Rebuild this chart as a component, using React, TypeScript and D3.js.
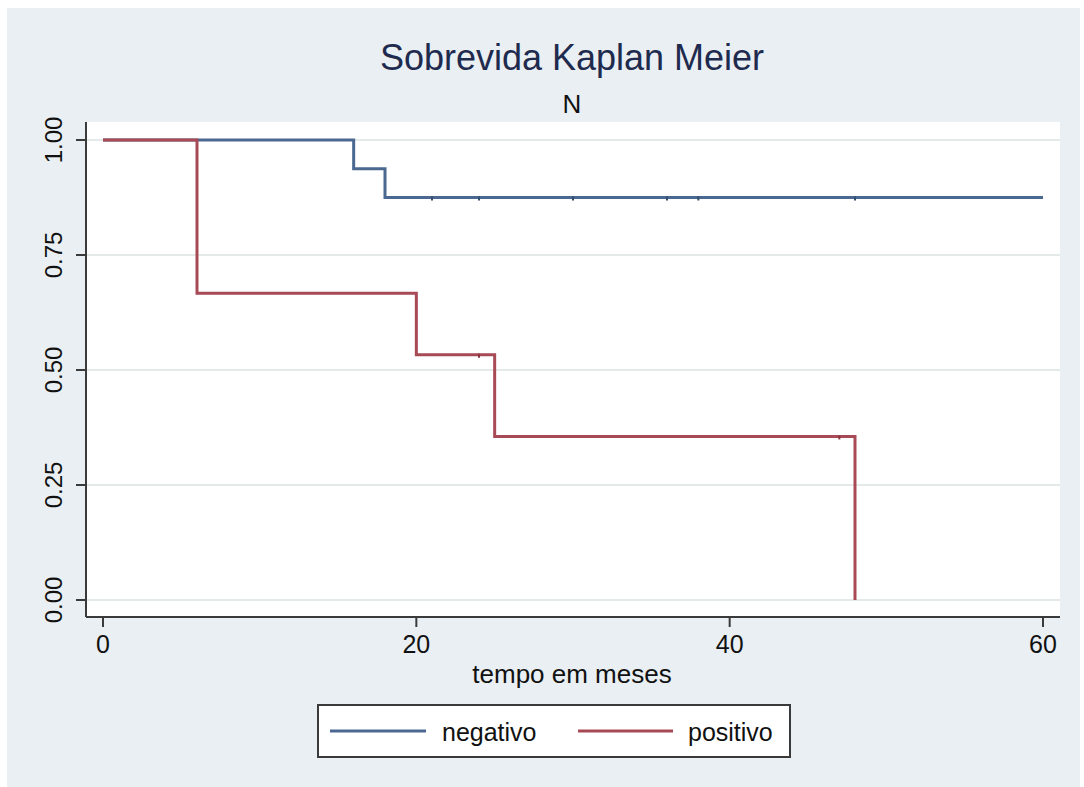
import React from "react";
import * as d3 from "d3";

const yTicks = [0, 0.25, 0.5, 0.75, 1];
const xTicks = [0, 20, 40, 60];

const negTimes = [0, 16, 18, 60];
const negSurv = [1, 0.9375, 0.875, 0.875];
const negCensor = [21, 24, 30, 36, 38, 48];

const posTimes = [0, 6, 20, 25, 48];
const posSurv = [1, 0.6667, 0.5333, 0.3556, 0];
const posCensor = [24, 47];

const seriesNames = ["negativo", "positivo"];
const seriesColors = ["#4a6890", "#a84a55"];

const FONT = "'Liberation Sans', Arial, Helvetica, sans-serif";

export default function App() {
  const W = 1084, H = 787;
  const plot = { left: 86, right: 1060, top: 122, bottom: 617 };
  const x = d3.scaleLinear().domain([0, 60]).range([103, 1043]);
  const y = d3.scaleLinear().domain([0, 1]).range([600, 140]);
  const line = d3
    .line<[number, number]>()
    .x((d) => x(d[0]))
    .y((d) => y(d[1]))
    .curve(d3.curveStepAfter);

  const negPts = negTimes.map((t, i) => [t, negSurv[i]] as [number, number]);
  const posPts = posTimes.map((t, i) => [t, posSurv[i]] as [number, number]);

  const survAt = (times: number[], surv: number[], t: number) => {
    let v = surv[0];
    for (let i = 0; i < times.length; i++) if (times[i] <= t) v = surv[i];
    return v;
  };

  const axisColor = "#3a3a3a";

  return (
    <svg
      width={W}
      height={H}
      style={{ position: "absolute", left: 0, top: 0, background: "#fff" }}
      fontFamily={FONT}
    >
      <rect x={7} y={8} width={1073} height={779} fill="#e9eff2" />
      <rect
        x={plot.left}
        y={plot.top}
        width={plot.right - plot.left}
        height={plot.bottom - plot.top}
        fill="#ffffff"
      />
      {yTicks.map((t) => (
        <line
          key={"g" + t}
          x1={plot.left}
          x2={plot.right}
          y1={y(t)}
          y2={y(t)}
          stroke="#e4eaea"
          strokeWidth={2}
        />
      ))}
      {/* title */}
      <text x={572} y={70} textAnchor="middle" fontSize={36} fill="#1e2a4e">
        Sobrevida Kaplan Meier
      </text>
      <text x={572} y={113} textAnchor="middle" fontSize={26} fill="#111">
        N
      </text>

      {/* lines */}
      <path d={line(negPts) || ""} fill="none" stroke={seriesColors[0]} strokeWidth={3} />
      {negCensor.map((t) => (
        <line
          key={"nc" + t}
          x1={x(t)}
          x2={x(t)}
          y1={y(survAt(negTimes, negSurv, t)) - 1}
          y2={y(survAt(negTimes, negSurv, t)) + 3}
          stroke="#34506f"
          strokeWidth={2}
        />
      ))}
      <path d={line(posPts) || ""} fill="none" stroke={seriesColors[1]} strokeWidth={3} />
      {posCensor.map((t) => (
        <line
          key={"pc" + t}
          x1={x(t)}
          x2={x(t)}
          y1={y(survAt(posTimes, posSurv, t)) - 1}
          y2={y(survAt(posTimes, posSurv, t)) + 3}
          stroke="#8a3540"
          strokeWidth={2}
        />
      ))}

      {/* axes */}
      <line x1={plot.left} x2={plot.left} y1={plot.top} y2={plot.bottom} stroke={axisColor} strokeWidth={2} />
      <line x1={plot.left} x2={plot.right} y1={plot.bottom} y2={plot.bottom} stroke={axisColor} strokeWidth={2} />
      {yTicks.map((t) => (
        <g key={"yt" + t}>
          <line x1={76} x2={plot.left} y1={y(t)} y2={y(t)} stroke={axisColor} strokeWidth={2} />
          <text
            transform={`translate(62,${y(t)}) rotate(-90)`}
            textAnchor="middle"
            fontSize={24}
            fill="#111"
          >
            {d3.format(".2f")(t)}
          </text>
        </g>
      ))}
      {xTicks.map((t) => (
        <g key={"xt" + t}>
          <line x1={x(t)} x2={x(t)} y1={plot.bottom} y2={627} stroke={axisColor} strokeWidth={2} />
          <text x={x(t)} y={653} textAnchor="middle" fontSize={25} fill="#111">
            {t}
          </text>
        </g>
      ))}
      <text x={572} y={683} textAnchor="middle" fontSize={26} fill="#111">
        tempo em meses
      </text>

      {/* legend */}
      <rect x={318} y={705} width={472} height={52} fill="#fff" stroke={axisColor} strokeWidth={2} />
      <line x1={330} x2={426} y1={731} y2={731} stroke={seriesColors[0]} strokeWidth={3} />
      <text x={442} y={741} fontSize={25} fill="#111">
        {seriesNames[0]}
      </text>
      <line x1={578} x2={673} y1={731} y2={731} stroke={seriesColors[1]} strokeWidth={3} />
      <text x={688} y={741} fontSize={25} fill="#111">
        {seriesNames[1]}
      </text>
    </svg>
  );
}
